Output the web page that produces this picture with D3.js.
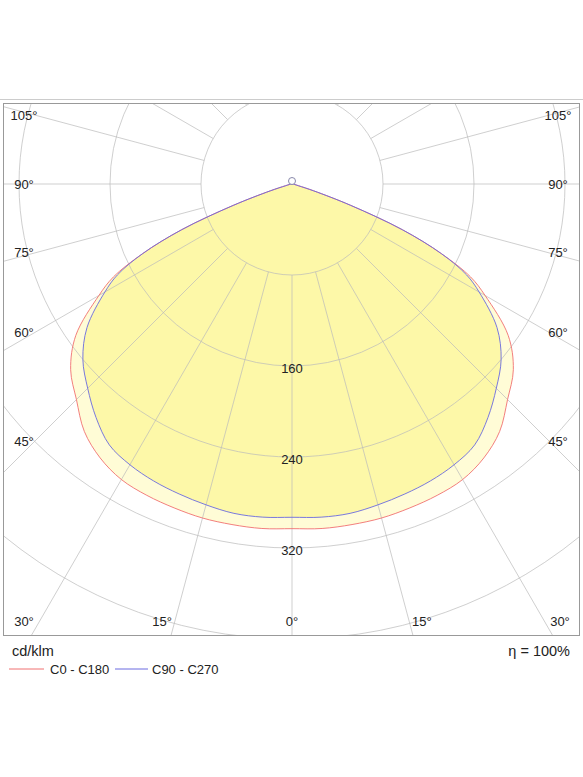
<!DOCTYPE html><html><head><meta charset="utf-8"><script src="https://cdn.jsdelivr.net/npm/d3@7"></script>
<style>body{margin:0;background:#fff}text{font-family:"Liberation Sans",Arial,sans-serif}</style></head><body>
<svg id="c" width="583" height="777"></svg>
<script>
const angles=[0,5,10,15,20,25,30,35,40,45,50,55,60,62.5,65,67.5,70,72.5,75,80,90];
const c0c180=[303,304,304,304,303,302,300,294,284,268,254,232,196,177,145,105,55,20,6,2,0];
const c90c270=[293,294,294,292,290,288,285,280,268,254,240,220,190,173,145,105,55,20,6,2,0];
const rings=[80,160,240,320,400];
const ringLabels=[160,240,320];
const rayAngles=d3.range(-180,181,15);
const sideLabels=[45,60,75,90,105];
const bottomLabels=[0,15,30];

const svg=d3.select("#c");
const cx=292,cy=184,L=3,R=580,T=103,B=636;
const r=d3.scaleLinear().domain([0,400]).range([0,455]);
const pt=(a,v)=>{const t=a*Math.PI/180;return [cx+Math.sin(t)*r(v),cy+Math.cos(t)*r(v)];};
svg.append("line").attr("x1",0).attr("x2",583).attr("y1",99.5).attr("y2",99.5).attr("stroke","#ccc");
svg.append("clipPath").attr("id","fr").append("rect").attr("x",L).attr("y",T).attr("width",R-L).attr("height",B-T);
const g=svg.append("g").attr("clip-path","url(#fr)");
function full(vals){const p=[];angles.forEach((a,i)=>p.push(pt(-a,vals[i])));for(let i=angles.length-1;i>0;i--)p.push(pt(angles[i],vals[i]));return p;}
const line=d3.line().curve(d3.curveCatmullRomClosed.alpha(0.5));
g.append("path").attr("d",line(full(c0c180))).attr("fill","#fffcd6");
g.append("path").attr("d",line(full(c90c270))).attr("fill","#fdf8a8");
rings.forEach(v=>g.append("circle").attr("cx",cx).attr("cy",cy).attr("r",r(v)).attr("fill","none").attr("stroke","#bbb").attr("stroke-opacity",0.7));
rayAngles.forEach(a=>{const p1=pt(a,80),p2=pt(a,800);g.append("line").attr("x1",p1[0]).attr("y1",p1[1]).attr("x2",p2[0]).attr("y2",p2[1]).attr("stroke","#bbb").attr("stroke-opacity",0.7);});
g.append("path").attr("d",line(full(c0c180))).attr("fill","none").attr("stroke","#f07070").attr("stroke-width",0.9);
g.append("path").attr("d",line(full(c90c270))).attr("fill","none").attr("stroke","#6a6ae0").attr("stroke-width",0.9);
svg.append("circle").attr("cx",cx).attr("cy",cy-3).attr("r",3.5).attr("fill","#fff").attr("stroke","#8888aa");
svg.append("rect").attr("x",L+0.5).attr("y",T+0.5).attr("width",R-L-1).attr("height",B-T-1).attr("fill","none").attr("stroke","#999");
const tx=(x,y,s,anc)=>svg.append("text").attr("x",x).attr("y",y).attr("text-anchor",anc||"middle").attr("dominant-baseline","central").attr("font-size",13).attr("fill","#222").text(s);
ringLabels.forEach(v=>tx(cx,cy+r(v)+2,v));
sideLabels.forEach(a=>{const y=cy+257/Math.tan(a*Math.PI/180);tx(24,y,a+"°");tx(558,y,a+"°");});
bottomLabels.forEach(a=>{const d=Math.min(268,485*Math.tan(a*Math.PI/180));tx(cx-d,621,a+"°");if(a)tx(cx+d,621,a+"°");});
svg.append("text").attr("x",12).attr("y",656).attr("font-size",14.5).attr("fill","#222").text("cd/klm");
svg.append("text").attr("x",570).attr("y",656).attr("text-anchor","end").attr("font-size",14.5).attr("fill","#222").text("η = 100%");
svg.append("line").attr("x1",9).attr("x2",44).attr("y1",669).attr("y2",669).attr("stroke","#f07070");
tx(50,669,"C0 - C180","start");
svg.append("line").attr("x1",115).attr("x2",148).attr("y1",669).attr("y2",669).attr("stroke","#6a6ae0");
tx(152,669,"C90 - C270","start");
</script></body></html>
